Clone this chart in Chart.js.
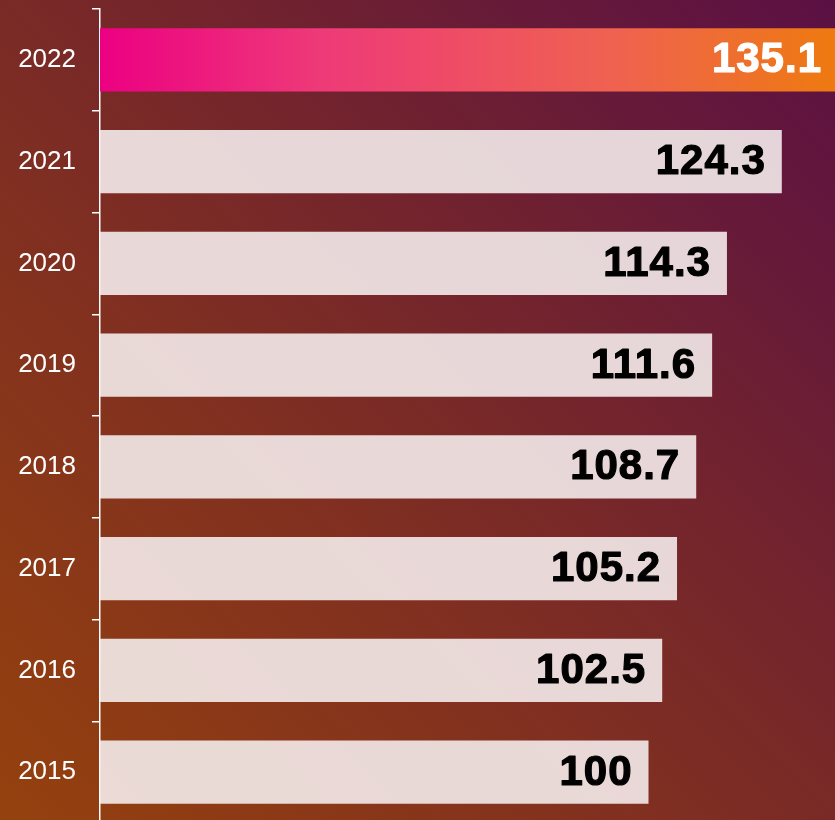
<!DOCTYPE html>
<html>
<head>
<meta charset="utf-8">
<script src="https://cdn.jsdelivr.net/npm/chart.js@4/dist/chart.umd.min.js"></script>
<style>
	html, body {
		margin: 0;
		padding: 0;
		width: 835px;
		height: 820px;
		overflow: hidden;
	}
	body {
		background: linear-gradient(to top right, #95410e 0%, #7a2a26 50%, #5b1044 100%);
	}
	#wrap {
		position: absolute;
		left: 0;
		top: 0;
		width: 835px;
		height: 823px;
	}
</style>
</head>
<body>
<div id="wrap"><canvas id="indexChart"></canvas></div>
<script>
// index values, newest year first
const years = ['2022', '2021', '2020', '2019', '2018', '2017', '2016', '2015'];
const values = [135.1, 124.3, 114.3, 111.6, 108.7, 105.2, 102.5, 100];
const valueLabels = ['135.1', '124.3', '114.3', '111.6', '108.7', '105.2', '102.5', '100'];

const AXIS_MAX = 134;

function barColor(ctx) {
	const chart = ctx.chart;
	const area = chart.chartArea;
	if (!area) return '#e4d6d6';
	if (ctx.dataIndex === 0) {
		const g = chart.ctx.createLinearGradient(area.left, 0, area.right, 0);
		g.addColorStop(0, '#ec0082');
		g.addColorStop(0.3, '#ee3a78');
		g.addColorStop(0.7, '#ef6250');
		g.addColorStop(1, '#ee7a10');
		return g;
	}
	return 'rgba(247, 240, 240, 0.88)';
}

/* -------------------------------------------------------------
 * value labels at the end of each bar
 * ------------------------------------------------------------- */
const valueLabelPlugin = {
	id: 'valueLabels',
	afterDatasetsDraw(chart) {
		const ctx = chart.ctx;
		const area = chart.chartArea;
		const meta = chart.getDatasetMeta(0);
		ctx.save();
		ctx.font = 'bold 42px "Liberation Sans", Arial, sans-serif';
		ctx.letterSpacing = '1px';
		ctx.textAlign = 'right';
		ctx.textBaseline = 'middle';
		ctx.lineJoin = 'round';
		meta.data.forEach((bar, i) => {
			const right = Math.min(bar.x, area.right);
			const x = right - (i === 0 ? 13 : 16);
			const y = bar.y + 1;
			const colour = i === 0 ? '#ffffff' : '#000000';
			ctx.fillStyle = colour;
			ctx.strokeStyle = colour;
			ctx.lineWidth = 1.2;
			ctx.strokeText(valueLabels[i], x, y);
			ctx.fillText(valueLabels[i], x, y);
		});
		ctx.restore();
	}
};

new Chart(document.getElementById('indexChart'), {
	type: 'bar',
	data: {
		labels: years,
		datasets: [
			{
				data: values,
				backgroundColor: barColor,
				borderWidth: 0,
				categoryPercentage: 1,
				barPercentage: 0.62
			}
		]
	},
	options: {
		indexAxis: 'y',
		responsive: true,
		maintainAspectRatio: false,
		animation: false,
		layout: {
			padding: { top: 9, right: 0, bottom: 0, left: 0 }
		},
		plugins: {
			legend: { display: false },
			tooltip: { enabled: false }
		},
		scales: {
			x: {
				display: false,
				min: 0,
				max: AXIS_MAX
			},
			y: {
				afterFit(scale) {
					// fixed axis column, no extra room above/below the bands
					scale.width = 100;
					scale.paddingTop = 0;
					scale.paddingBottom = 0;
				},
				border: {
					display: true,
					color: '#ffffff',
					width: 1.5
				},
				grid: {
					drawOnChartArea: false,
					drawTicks: true,
					tickLength: 8,
					color: '#ffffff',
					lineWidth: 1.5
				},
				ticks: {
					color: '#ffffff',
					padding: 16,
					font: {
						family: '"Liberation Sans", Arial, sans-serif',
						size: 26
					}
				}
			}
		}
	},
	plugins: [valueLabelPlugin]
});
</script>
</body>
</html>
